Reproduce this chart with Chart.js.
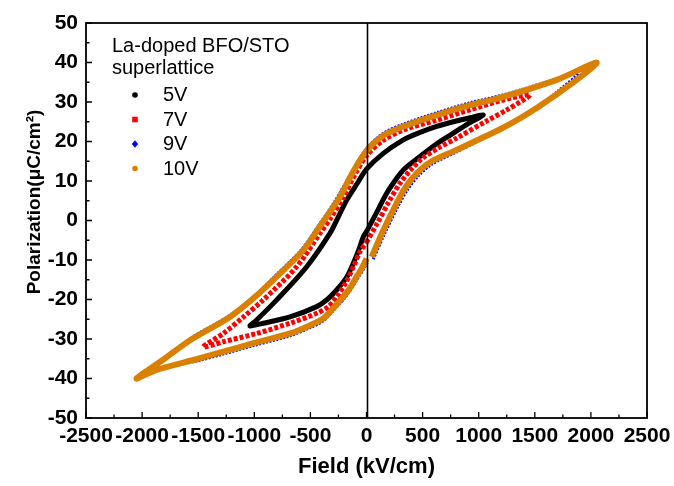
<!DOCTYPE html>
<html>
<head>
<meta charset="utf-8">
<script src="https://cdn.jsdelivr.net/npm/chart.js@4.4.1/dist/chart.umd.min.js"></script>
<style>
  body { margin: 0; background: #fff; }
  canvas { display: block; }
</style>
</head>
<body>
<canvas id="peCanvas" width="674" height="486"></canvas>
<script>
// Valeurs (champ en kV/cm, polarisation en µC/cm²)
const xTicks = [-2500, -2000, -1500, -1000, -500, 0, 500, 1000, 1500, 2000, 2500];
const yTicks = [-50, -40, -30, -20, -10, 0, 10, 20, 30, 40, 50];

const legendTitle = ["La-doped BFO/STO", "superlattice"];
const seriesNames = ["5V", "7V", "9V", "10V"];
const yTitle = "Polarization(\u03bcC/cm\u00b2)";

// 5V
const field5 = [0, 90, 180, 260, 328, 477, 620, 774, 900, 1041,
  922, 800, 626, 450, 328, 150, 0, -80, -176, -250, -325, -533, -800, -979, -1038,
  -920, -682, -444, -350, -266, -180, -117, -70, -28, 0];
const pol5 = [-2.8, 2, 6.9, 10.3, 12.8, 16.2, 19.3, 22.1, 24.4, 26.7,
  26, 25.2, 23.8, 22, 20.4, 17, 13, 9.5, 5.2, 1, -3.2, -11.7, -20.1, -25.2, -26.7,
  -26, -24.4, -21.8, -20, -17.6, -14.5, -10.8, -7.5, -4.1, -2.8];

// 7V
const field7 = [0, 100, 200, 300, 400, 500, 650, 800, 1071, 1250, 1457,
  1219, 922, 626, 328, 150, 0, -100, -221, -320, -414, -622, -920, -1100, -1276, -1455,
  -1276, -979, -682, -444, -340, -266, -180, -117, -60, 0];
const pol7 = [-5.5, -0.5, 4.8, 9.5, 13, 15.8, 18.5, 20.8, 25.2, 28, 31.8,
  30.5, 28, 25.4, 22.9, 20.3, 16.4, 11.8, 5.2, 0.6, -3.2, -11.7, -20.1, -24.5, -28.6, -32,
  -30.7, -28.6, -26, -23.5, -21.8, -19.3, -15.5, -11.7, -8, -5.5];

// 9V
const field9 = [60, 160, 285, 365, 465, 585, 790, 1000, 1219, 1517, 1700, 1885,
  1695, 1219, 922, 626, 328, 150, 0, -120, -270, -430, -580, -820, -1000, -1217, -1573, -1885,
  -1700, -1500, -1276, -1000, -682, -500, -385, -290, -200, -130, -75, -25, 15];
const pol9 = [-9.8, -3.4, 3.8, 7.8, 11.4, 14.3, 17.2, 20.2, 23.4, 28.6, 32.6, 37.3,
  35.8, 31.8, 29.8, 27.3, 24.4, 22.1, 18.2, 12.8, 5.4, -1.4, -7.4, -14.2, -19.2, -24, -30, -37.5,
  -36.6, -35.5, -33.8, -31.6, -29.2, -27.1, -25.4, -22.6, -19.8, -17, -14.5, -12.2, -10.2];

// 10V
const field10 = [46, 150, 269, 350, 450, 570, 774, 1000, 1219, 1517, 1873, 2050,
  1695, 1219, 922, 626, 328, 150, 0, -120, -254, -414, -563, -800, -1000, -1217, -1573, -1800, -2050,
  -1870, -1500, -1276, -1000, -682, -500, -385, -290, -207, -140, -88, -40, 0];
const pol10 = [-9.2, -2.5, 4.4, 8.5, 12, 14.8, 17.5, 20.5, 23.5, 28.5, 35.6, 40,
  35.6, 31.3, 29.2, 26.7, 23.8, 21.5, 17.6, 12.3, 5.2, -1.4, -7.5, -14.2, -19.5, -24.4, -30.3, -35, -40,
  -37.8, -35, -33.2, -31, -28.6, -26.5, -24.8, -22, -19.3, -16.8, -14.2, -12, -9.6];

const fontFamily = '"Liberation Sans", Arial, sans-serif';

function toPoints(xs, ys) {
  return xs.map((x, i) => ({x: x, y: ys[i]}));
}

// Cadre, graduations vers l'intérieur, ligne verticale à E = 0, titre Y et légende
const framePlugin = {
  id: 'frame',
  afterDraw(chart) {
    const ctx = chart.ctx;
    const a = chart.chartArea;
    const xs = chart.scales.x;
    const ys = chart.scales.y;
    ctx.save();
    ctx.strokeStyle = '#000';
    ctx.lineWidth = 1.6;

    // ligne E = 0
    const x0 = Math.round(xs.getPixelForValue(0)) + 0.5;
    ctx.beginPath();
    ctx.moveTo(x0, a.top);
    ctx.lineTo(x0, a.bottom);
    ctx.stroke();

    ctx.lineWidth = 1.8;
    ctx.strokeRect(a.left, a.top, a.right - a.left, a.bottom - a.top);

    // graduations
    ctx.lineWidth = 1.3;
    ctx.beginPath();
    for (let i = 0; i < xTicks.length; i++) {
      const px = xs.getPixelForValue(xTicks[i]);
      ctx.moveTo(px, a.bottom);
      ctx.lineTo(px, a.bottom - 6);
      if (i < xTicks.length - 1) {
        const pm = xs.getPixelForValue((xTicks[i] + xTicks[i + 1]) / 2);
        ctx.moveTo(pm, a.bottom);
        ctx.lineTo(pm, a.bottom - 3.5);
      }
    }
    for (let i = 0; i < yTicks.length; i++) {
      const py = ys.getPixelForValue(yTicks[i]);
      ctx.moveTo(a.left, py);
      ctx.lineTo(a.left + 6, py);
      if (i < yTicks.length - 1) {
        const pm = ys.getPixelForValue((yTicks[i] + yTicks[i + 1]) / 2);
        ctx.moveTo(a.left, pm);
        ctx.lineTo(a.left + 3.5, pm);
      }
    }
    ctx.stroke();

    // titre de l'axe Y
    ctx.save();
    ctx.translate(35, 202);
    ctx.rotate(-Math.PI / 2);
    ctx.fillStyle = '#000';
    ctx.font = 'bold 19px ' + fontFamily;
    ctx.textAlign = 'center';
    ctx.textBaseline = 'middle';
    ctx.fillText(yTitle, 0, 0);
    ctx.restore();

    // légende
    ctx.fillStyle = '#000';
    ctx.font = '20px ' + fontFamily;
    ctx.textBaseline = 'alphabetic';
    ctx.fillText(legendTitle[0], 112, 52);
    ctx.fillText(legendTitle[1], 112, 74);
    chart.data.datasets.forEach((ds, i) => {
      const cy = 95 + i * 24.5;
      const cx = 135;
      ctx.fillStyle = ds.legendColor;
      ctx.beginPath();
      if (ds.legendShape === 'circle') {
        ctx.arc(cx, cy, 2.8, 0, 2 * Math.PI);
      } else if (ds.legendShape === 'square') {
        ctx.rect(cx - 2.8, cy - 2.8, 5.6, 5.6);
      } else {
        ctx.moveTo(cx, cy - 3.8);
        ctx.lineTo(cx + 3.2, cy);
        ctx.lineTo(cx, cy + 3.8);
        ctx.lineTo(cx - 3.2, cy);
        ctx.closePath();
      }
      ctx.fill();
      ctx.fillStyle = '#000';
      ctx.fillText(ds.label, 163, cy + 6);
    });
    ctx.restore();
  }
};

const ctx = document.getElementById('peCanvas').getContext('2d');

new Chart(ctx, {
  type: 'scatter',
  data: {
    datasets: [
      {
        label: seriesNames[0],
        data: toPoints(field5, pol5),
        showLine: true,
        borderColor: '#000000',
        borderWidth: 5,
        pointRadius: 0,
        tension: 0.3,
        order: 3,
        legendColor: '#000000',
        legendShape: 'circle'
      },
      {
        label: seriesNames[1],
        data: toPoints(field7, pol7),
        showLine: true,
        borderColor: '#ff0000',
        borderWidth: 5,
        borderDash: [4, 2],
        pointRadius: 0,
        tension: 0.3,
        order: 2,
        legendColor: '#ff0000',
        legendShape: 'square'
      },
      {
        label: seriesNames[2],
        data: toPoints(field9, pol9),
        showLine: true,
        borderColor: '#0000ff',
        borderWidth: 3,
        borderDash: [2, 1.5],
        pointRadius: 0,
        tension: 0.3,
        order: 1,
        legendColor: '#0000ff',
        legendShape: 'diamond'
      },
      {
        label: seriesNames[3],
        data: toPoints(field10, pol10),
        showLine: true,
        borderColor: '#d98000',
        borderWidth: 6,
        pointRadius: 0,
        tension: 0.3,
        order: 0,
        legendColor: '#d98000',
        legendShape: 'circle'
      }
    ]
  },
  options: {
    animation: false,
    responsive: false,
    layout: { padding: { left: 0, right: 27, top: 23, bottom: 0 } },
    plugins: {
      legend: { display: false },
      tooltip: { enabled: false }
    },
    scales: {
      x: {
        type: 'linear',
        min: -2500,
        max: 2500,
        grid: { display: false, drawTicks: false },
        border: { display: false },
        afterBuildTicks: (s) => { s.ticks = xTicks.map(v => ({value: v})); },
        afterFit: (s) => { s.height = 68; s.paddingLeft = 0; s.paddingRight = 0; },
        ticks: {
          autoSkip: false,
          maxRotation: 0,
          padding: 6,
          color: '#000',
          font: { family: fontFamily, size: 21, weight: 'bold' },
          callback: (v) => String(v)
        },
        title: {
          display: true,
          text: 'Field (kV/cm)',
          color: '#000',
          font: { family: fontFamily, size: 22, weight: 'bold' },
          padding: { top: 0, bottom: 6 }
        }
      },
      y: {
        type: 'linear',
        min: -50,
        max: 50,
        grid: { display: false, drawTicks: false },
        border: { display: false },
        afterBuildTicks: (s) => { s.ticks = yTicks.map(v => ({value: v})); },
        afterFit: (s) => { s.width = 86; s.paddingTop = 0; s.paddingBottom = 0; },
        ticks: {
          autoSkip: false,
          padding: 8,
          color: '#000',
          font: { family: fontFamily, size: 21, weight: 'bold' },
          callback: (v) => String(v)
        },
        title: { display: false }
      }
    }
  },
  plugins: [framePlugin]
});
</script>
</body>
</html>
